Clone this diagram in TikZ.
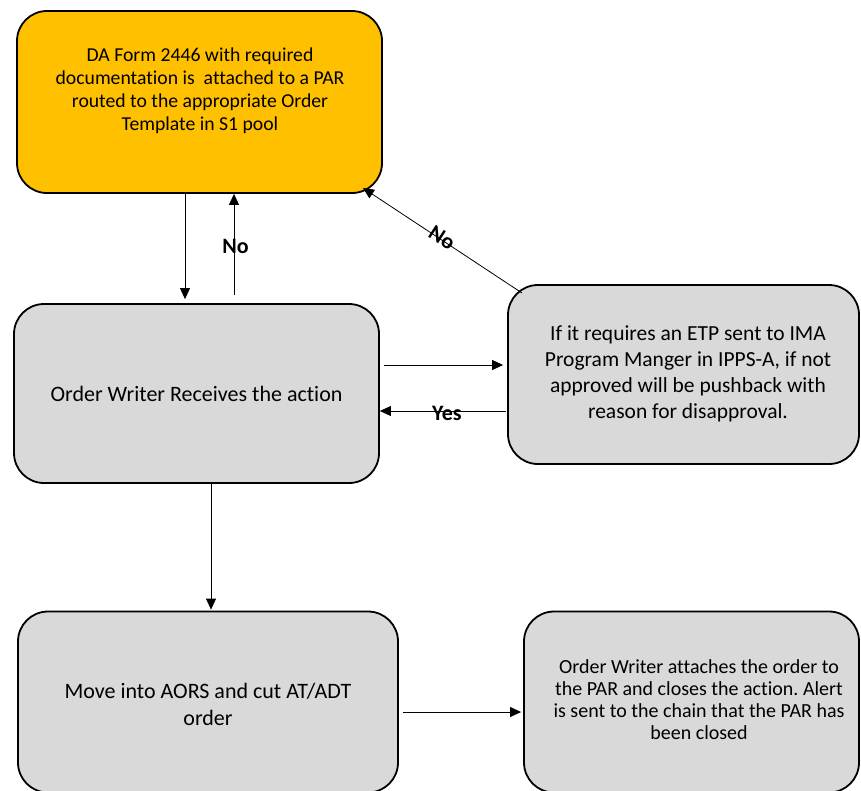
\documentclass[tikz,border=0pt]{standalone}
\usepackage{fontspec}
\setmainfont{Carlito}[Ligatures=NoCommon]
\frenchspacing
\usetikzlibrary{arrows.meta,calc}
\definecolor{orangefill}{HTML}{FFC000}
\definecolor{grayfill}{HTML}{D9D9D9}
\tikzset{
  box/.style={draw=black, line width=1.8pt, rounded corners=30pt, rectangle, inner sep=0pt},
  arr/.style={draw=black, line width=0.8pt, -{Triangle[length=11pt,width=10pt]}},
  lbl/.style={font=\bfseries\fontsize{22}{24}\selectfont, inner sep=0pt},
  txt/.style={align=center, inner sep=0pt}
}
\begin{document}
\begin{tikzpicture}[x=1pt,y=-1pt]
\useasboundingbox (0,0) rectangle (861,790);
\begin{scope}
\clip (0,0) rectangle (861,790);
\node[box, fill=orangefill, minimum width=365pt, minimum height=182pt] (A) at (199.5,102) {};
\node[box, fill=grayfill, minimum width=365pt, minimum height=179pt] (B) at (196.5,393.5) {};
\node[box, fill=grayfill, minimum width=351pt, minimum height=179pt] (C) at (683.5,374.5) {};
\node[box, fill=grayfill, minimum width=380pt, minimum height=181pt] (D) at (208,702) {};
\node[box, fill=grayfill, minimum width=335pt, minimum height=181pt] (E) at (691.5,702) {};
\end{scope}

\node[txt, font=\fontsize{19.7}{23}\selectfont] (At) at (200,91) {DA Form 2446 with required\\documentation is\ \ attached to a PAR\\routed to the appropriate Order\\Template in S1 pool};
\node[txt, font=\fontsize{22}{26}\selectfont] (Bt) at (B.center) {Order Writer Receives the action};
\node[txt, font=\fontsize{21.5}{26}\selectfont] (Ct) at (688,374) {If it requires an ETP sent to IMA\\Program Manger in IPPS-A, if not\\approved will be pushback with\\reason for disapproval.};
\node[txt, font=\fontsize{22}{27}\selectfont] (Dt) at (208,704) {Move into AORS and cut AT/ADT\\order};
\node[txt, font=\fontsize{20}{22}\selectfont] (Et) at (699,700) {Order Writer attaches the order to\\the PAR and closes the action. Alert\\is sent to the chain that the PAR has\\been closed};

\coordinate (x1) at (185,0);
\coordinate (x2) at (234,0);
\coordinate (x3) at (211,0);
\coordinate (y1) at (0,365);
\coordinate (y2) at (0,411);
\coordinate (y3) at (0,712);
\coordinate (cA) at (363,188);
\coordinate (cC) at (522,293);

\draw[arr, shorten >=4pt] (A.south -| x1) -- (B.north -| x1);
\draw[arr, shorten <=8pt] (B.north -| x2) -- (A.south -| x2);
\node[lbl] (no1) at (235.5,246) {No};
\draw[arr] (cC) -- (cA);
\node[lbl, rotate=-33] (no2) at (442,238) {No};
\draw[arr, shorten <=4pt, shorten >=4pt] (B.east |- y1) -- (C.west |- y1);
\draw[arr, shorten <=1pt] (C.west |- y2) -- (B.east |- y2);
\node[lbl] (yes) at (447,413) {Yes};
\draw[arr, shorten >=1pt] (B.south -| x3) -- (D.north -| x3);
\draw[arr, shorten <=4pt, shorten >=2pt] (D.east |- y3) -- (E.west |- y3);
\end{tikzpicture}
\end{document}
